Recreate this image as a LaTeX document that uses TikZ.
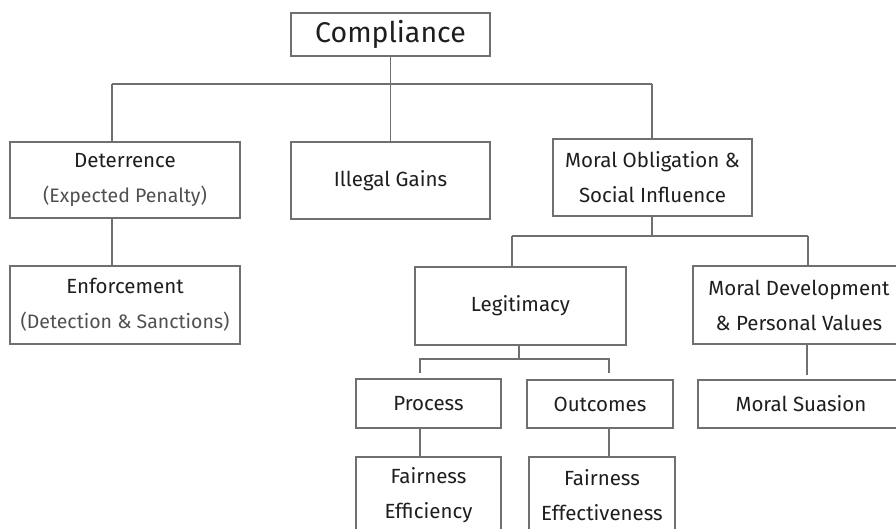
\documentclass[tikz,border=0pt]{standalone}
\usepackage{fontspec}
\setmainfont{Fira Sans}
\newcommand{\subline}[1]{{\fontsize{19.5}{35}\selectfont\textcolor{sub}{#1}}}
\begin{document}
\begin{tikzpicture}[x=1pt,y=-1pt,
  box/.style={draw=linec, line width=1.1pt, inner sep=0pt, align=center, text=txt,
    font=\fontsize{20.5}{35}\selectfont},
  conn/.style={draw=linec, line width=1.1pt}]
\definecolor{linec}{HTML}{707070}
\definecolor{txt}{HTML}{1E1E1E}
\definecolor{sub}{HTML}{505050}
\useasboundingbox (0,0) rectangle (896,528);
\clip (0,0) rectangle (896,528);
\node[box, minimum width=199pt, minimum height=43pt, font=\fontsize{28.5}{32}\selectfont] (comp) at (390.5,34.5) {Compliance};
\node[box, minimum width=230pt, minimum height=76pt] (det) at (125,180) {Deterrence\\\subline{(Expected Penalty)}};
\node[box, minimum width=199pt, minimum height=77pt] (ill) at (390.5,180.5) {Illegal Gains};
\node[box, minimum width=199pt, minimum height=77pt] (mor) at (652.5,177.5) {Moral Obligation \&\\Social Influence};
\node[box, minimum width=230pt, minimum height=78pt] (enf) at (125,305) {Enforcement\\\subline{(Detection \& Sanctions)}};
\node[box, minimum width=211pt, minimum height=78pt] (leg) at (520.5,306) {Legitimacy};
\node[box, minimum width=212pt, minimum height=78pt] (mdv) at (799,305) {Moral Development\\\& Personal Values};
\node[box, minimum width=145pt, minimum height=49pt] (proc) at (428.5,403.5) {Process};
\node[box, minimum width=146pt, minimum height=48pt] (outc) at (600,404) {Outcomes};
\node[box, minimum width=206pt, minimum height=48pt] (ms) at (801,404) {Moral Suasion};
\node[box, minimum width=145pt, minimum height=76pt] (fe1) at (428.5,495) {Fairness\\Efficiency};
\node[box, minimum width=146pt, minimum height=76pt] (fe2) at (602,495) {Fairness\\Effectiveness};
% connectors
\coordinate (b0) at (390.5,84);
\coordinate (bl) at (112,84);
\coordinate (br) at (652,84);
\draw[conn] (comp.south) -- (b0);
\draw[conn] (bl) -- (br);
\draw[conn] (bl) -- (bl |- det.north);
\draw[conn] (b0) -- (ill.north);
\draw[conn] (br) -- (br |- mor.north);
\draw[conn] (bl |- det.south) -- (bl |- enf.north);
\coordinate (c0) at (652,236);
\coordinate (cl) at (512,236);
\coordinate (cr) at (808,236);
\draw[conn] (c0 |- mor.south) -- (c0);
\draw[conn] (cl) -- (cr);
\draw[conn] (cl) -- (cl |- leg.north);
\draw[conn] (cr) -- (cr |- mdv.north);
\coordinate (d0) at (519,359);
\coordinate (dl) at (420,359);
\coordinate (dr) at (609,359);
\coordinate (dle) at (420,373);
\coordinate (dre) at (609,373);
\draw[conn] (d0 |- leg.south) -- (d0);
\draw[conn] (dle) -- (dl) -- (dr) -- (dre);
\coordinate (e0) at (807,375);
\draw[conn] (e0 |- mdv.south) -- (e0);
\draw[conn] (dl |- proc.south) -- (dl |- fe1.north);
\draw[conn] (dr |- outc.south) -- (dr |- fe2.north);
\end{tikzpicture}
\end{document}
